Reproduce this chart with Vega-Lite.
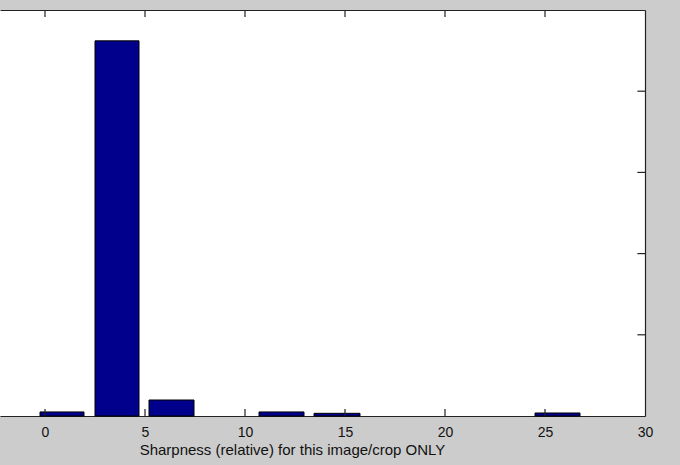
{
  "$schema": "https://vega.github.io/schema/vega-lite/v6.json",
  "autosize": {"type": "none"},
  "width": 645,
  "height": 406,
  "padding": {"left": 0, "top": 10, "right": 35, "bottom": 49},
  "background": "#cccccc",
  "config": {
    "view": {"stroke": null, "fill": "white"},
    "axis": {
      "domainColor": "#222222",
      "domainWidth": 1.2,
      "grid": false,
      "labelFont": "Liberation Sans",
      "titleFont": "Liberation Sans",
      "labelColor": "#111111",
      "titleColor": "#111111",
      "labelFontSize": 14,
      "titleFontSize": 15,
      "titleFontWeight": "normal"
    }
  },
  "datasets": {
    "bars": [
      {"start": -0.25, "end": 1.95, "count": 0.05},
      {"start": 2.5, "end": 4.7, "count": 4.62},
      {"start": 5.2, "end": 7.45, "count": 0.197},
      {"start": 10.7, "end": 12.95, "count": 0.05},
      {"start": 13.45, "end": 15.75, "count": 0.033},
      {"start": 24.5, "end": 26.75, "count": 0.037}
    ],
    "xticks": [
      {"x": 0}, {"x": 5}, {"x": 10}, {"x": 15}, {"x": 20}, {"x": 25}
    ],
    "yticks": [
      {"y": 1}, {"y": 2}, {"y": 3}, {"y": 4}
    ]
  },
  "layer": [
    {
      "data": {"name": "bars"},
      "mark": {"type": "bar", "fill": "#00008c", "stroke": "#000000", "strokeWidth": 1},
      "encoding": {
        "x": {
          "field": "start", "type": "quantitative",
          "scale": {"domain": [-2.25, 30], "nice": false, "zero": false},
          "axis": {
            "orient": "bottom",
            "values": [0, 5, 10, 15, 20, 25, 30],
            "ticks": false,
            "labelPadding": 9,
            "labelFlush": false,
            "title": "Sharpness (relative) for this image/crop ONLY",
            "titleX": 292,
            "titleAnchor": null,
            "titlePadding": 3
          }
        },
        "x2": {"field": "end"},
        "y": {
          "field": "count", "type": "quantitative",
          "scale": {"domain": [0, 5], "nice": false},
          "axis": {
            "orient": "right",
            "values": [0, 5],
            "ticks": false,
            "labels": false,
            "title": null
          }
        },
        "y2": {"datum": 0}
      }
    },
    {
      "data": {"name": "bars"},
      "mark": {"type": "bar", "opacity": 0},
      "encoding": {
        "x": {
          "field": "start", "type": "quantitative",
          "scale": {"domain": [-2.25, 30], "nice": false, "zero": false},
          "axis": {
            "orient": "top",
            "values": [0, 5, 10, 15, 20, 25, 30],
            "ticks": false,
            "labels": false,
            "title": null
          }
        },
        "x2": {"field": "end"},
        "y": {"field": "count", "type": "quantitative", "scale": {"domain": [0, 5], "nice": false}, "axis": null},
        "y2": {"datum": 0}
      }
    },
    {
      "data": {"name": "xticks"},
      "mark": {"type": "rule", "color": "#222222", "strokeWidth": 1.2},
      "encoding": {
        "x": {"field": "x", "type": "quantitative", "scale": {"domain": [-2.25, 30], "nice": false, "zero": false}, "axis": null},
        "y": {"datum": 0, "type": "quantitative", "scale": {"domain": [0, 5], "nice": false}, "axis": null},
        "y2": {"datum": 0.085}
      }
    },
    {
      "data": {"name": "xticks"},
      "mark": {"type": "rule", "color": "#222222", "strokeWidth": 1.2},
      "encoding": {
        "x": {"field": "x", "type": "quantitative", "scale": {"domain": [-2.25, 30], "nice": false, "zero": false}, "axis": null},
        "y": {"datum": 4.915, "type": "quantitative", "scale": {"domain": [0, 5], "nice": false}, "axis": null},
        "y2": {"datum": 5}
      }
    },
    {
      "data": {"name": "yticks"},
      "mark": {"type": "rule", "color": "#222222", "strokeWidth": 1.2},
      "encoding": {
        "y": {"field": "y", "type": "quantitative", "scale": {"domain": [0, 5], "nice": false}, "axis": null},
        "x": {"datum": 29.62, "type": "quantitative", "scale": {"domain": [-2.25, 30], "nice": false, "zero": false}, "axis": null},
        "x2": {"datum": 30}
      }
    }
  ],
  "resolve": {"axis": {"x": "independent", "y": "independent"}}
}
